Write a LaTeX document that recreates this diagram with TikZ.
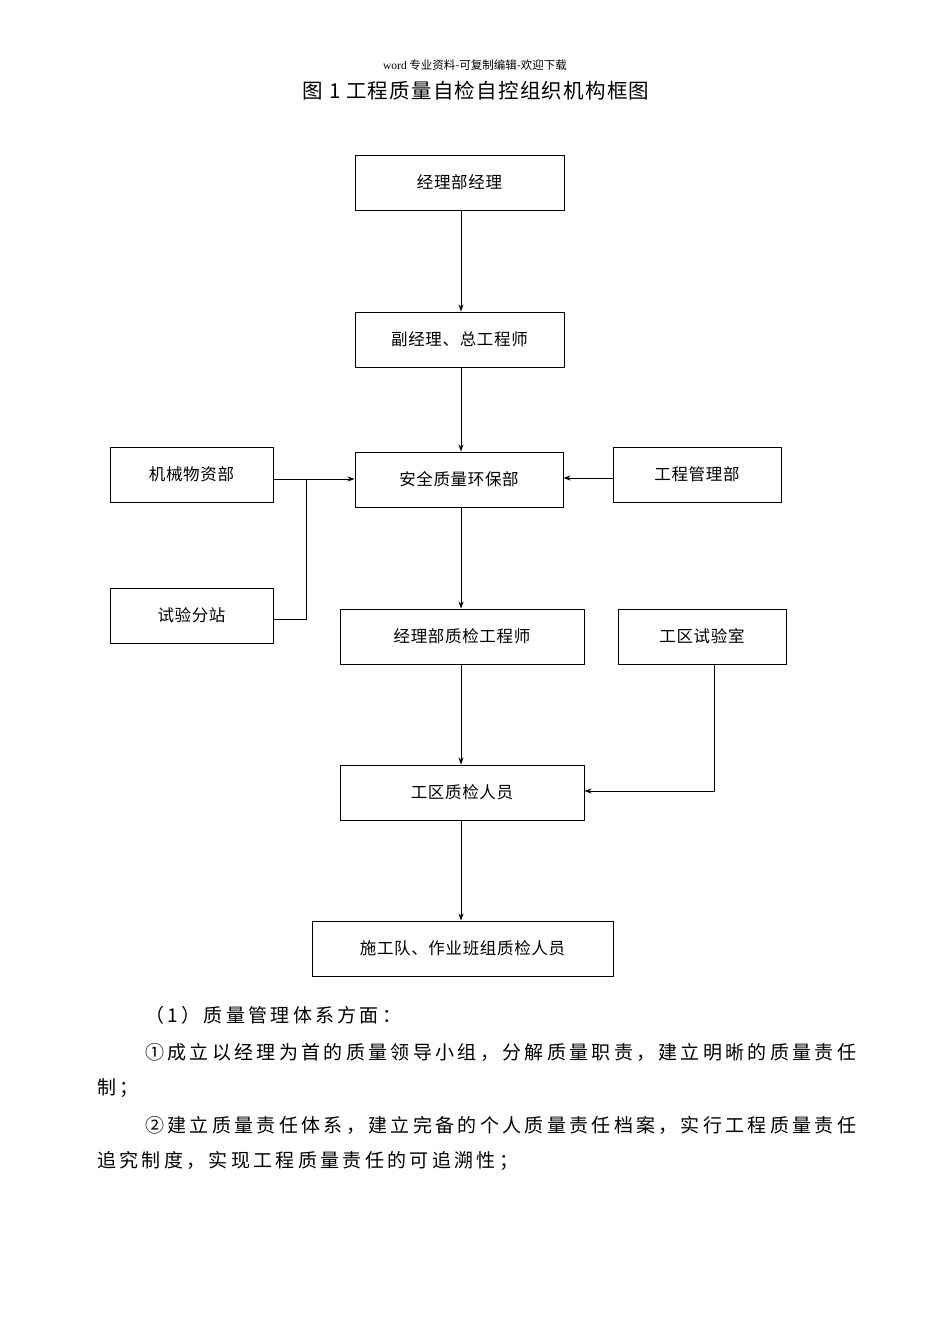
\documentclass[tikz,border=0pt]{standalone}
\usepackage{fontspec}
\usetikzlibrary{arrows.meta}
\setmainfont{Noto Sans CJK SC}
\newfontfamily\parafont[LetterSpace=17.5]{Noto Sans CJK SC}
\newfontfamily\titlefont[LetterSpace=6]{Noto Sans CJK SC}
\newfontfamily\boxfont[LetterSpace=4]{Noto Sans CJK SC}
\newfontfamily\hdr{Liberation Serif}
\newfontfamily\hdrcjk{Noto Sans CJK SC}
\begin{document}
\begin{tikzpicture}[x=1pt,y=-1pt,
  box/.style={draw,line width=0.9pt,inner sep=0pt,font=\boxfont\fontsize{16.5}{16.5}\selectfont},
  arr/.style={line width=0.9pt,-{Stealth[length=7pt,width=5pt]}},
  ln/.style={line width=0.9pt},
  para/.style={anchor=west,inner sep=0pt,font=\parafont\fontsize{19}{19}\selectfont}]
\useasboundingbox (0,0) rectangle (950,1344);
\node[font=\hdrcjk\fontsize{11.5}{11.5}\selectfont] (hd) at (475,65) {{\hdr word} 专业资料-可复制编辑-欢迎下载};
\node[font=\titlefont\fontsize{20.5}{20.5}\selectfont] (tt) at (476,91) {图 1 工程质量自检自控组织机构框图};
\node[box,minimum width=209,minimum height=55] (a) at (459.5,182.5) {经理部经理};
\node[box,minimum width=209,minimum height=55] (b) at (459.5,339.5) {副经理、总工程师};
\node[box,minimum width=208,minimum height=55] (c) at (459,479.5) {安全质量环保部};
\node[box,minimum width=163,minimum height=55] (m) at (191.5,474.5) {机械物资部};
\node[box,minimum width=168,minimum height=55] (g) at (697,474.5) {工程管理部};
\node[box,minimum width=163,minimum height=55] (s) at (191.5,615.5) {试验分站};
\node[box,minimum width=244,minimum height=55] (d) at (462,636.5) {经理部质检工程师};
\node[box,minimum width=168,minimum height=55] (l) at (702,636.5) {工区试验室};
\node[box,minimum width=244,minimum height=55] (e) at (462,792.5) {工区质检人员};
\node[box,minimum width=301,minimum height=55] (f) at (462.5,948.5) {施工队、作业班组质检人员};
\coordinate (j) at (306,479);
\coordinate (k) at (714,791);
\draw[arr] (a.south -| 461,0) -- (b.north -| 461,0);
\draw[arr] (b.south -| 461,0) -- (c.north -| 461,0);
\draw[arr] (c.south -| 461,0) -- (d.north -| 461,0);
\draw[arr] (d.south -| 461,0) -- (e.north -| 461,0);
\draw[arr] (e.south -| 461,0) -- (f.north -| 461,0);
\draw[arr] (m.east |- j) -- (c.west |- j);
\draw[ln] (s.east |- 0,619) -- (306,619) -- (j);
\draw[arr] (g.west |- 0,478) -- (c.east |- 0,478);
\draw[arr] (l.south -| k) -- (k) -- (e.east |- k);
\node[para] (p1) at (145,1015) {（1）质量管理体系方面：};
\node[para] (p2) at (145,1052) {①成立以经理为首的质量领导小组，分解质量职责，建立明晰的质量责任};
\node[para] (p3) at (97,1088) {制；};
\node[para] (p4) at (145,1125) {②建立质量责任体系，建立完备的个人质量责任档案，实行工程质量责任};
\node[para] (p5) at (97,1161) {追究制度，实现工程质量责任的可追溯性；};
\end{tikzpicture}
\end{document}
